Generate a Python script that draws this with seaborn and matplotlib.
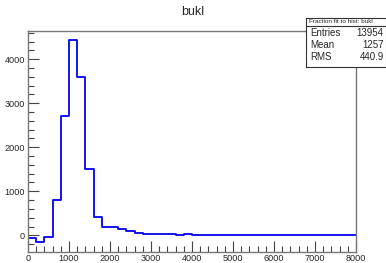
import numpy as np
import pandas as pd
import matplotlib
matplotlib.use("Agg")
import matplotlib.pyplot as plt
import seaborn as sns
from matplotlib.ticker import MultipleLocator

# bin contents, 200 wide bins from 0 to 8000
bin_low = np.arange(0, 8000, 200)
counts = [-60, -160, -30, 800, 2700, 4440, 3600, 1500, 420, 200,
          180, 150, 100, 50, 20, 20, 20, 20, 10, 30] + [0] * 20
stat_names = ["Entries", "Mean", "RMS"]
stat_values = ["13954", "1257", "440.9"]

df = pd.DataFrame({"x": bin_low + 100, "w": counts})

sns.set_style("ticks")
plt.rcParams["font.family"] = ["Liberation Sans", "DejaVu Sans"]

fig = plt.figure(figsize=(3.86, 2.63), dpi=100)
ax = fig.add_axes([0.0725, 0.04, 0.85, 0.842])
sns.histplot(data=df, x="x", weights="w", binwidth=200, binrange=(0, 8000),
             element="step", fill=False, color="#0000ee", linewidth=1.3, ax=ax)
ax.set_xlim(0, 8000)
ax.set_ylim(-390, 4640)
ax.set_xlabel("")
ax.set_ylabel("")
ax.xaxis.set_major_locator(MultipleLocator(1000))
ax.xaxis.set_minor_locator(MultipleLocator(200))
ax.yaxis.set_major_locator(MultipleLocator(1000))
ax.yaxis.set_minor_locator(MultipleLocator(200))
ax.tick_params(which="both", direction="in", labelsize=6.6, color="#444",
               width=0.8, pad=2)
ax.tick_params(axis="x", pad=1)
ax.tick_params(which="major", length=8)
ax.tick_params(which="minor", length=4)
for s in ax.spines.values():
    s.set_color("#777")
    s.set_linewidth(1)

fig.text(0.5, 0.953, "bukl", ha="center", va="center", fontsize=9)

# stats box
box = fig.add_axes([0.793, 0.745, 0.207, 0.187])
box.set_xlim(0, 1)
box.set_ylim(0, 1)
box.set_xticks([])
box.set_yticks([])
for s in box.spines.values():
    s.set_color("#333")
    s.set_linewidth(0.8)
box.axhline(0.84, color="#333", lw=0.8)
box.text(0.04, 0.92, "Fraction fit to hist: bukl", fontsize=4.6, va="center")
for i, (n, v) in enumerate(zip(stat_names, stat_values)):
    y = 0.7 - i * 0.25
    box.text(0.05, y, n, fontsize=7, va="center")
    box.text(0.97, y, v, fontsize=7, va="center", ha="right")

fig.savefig("out.png", dpi=100)
